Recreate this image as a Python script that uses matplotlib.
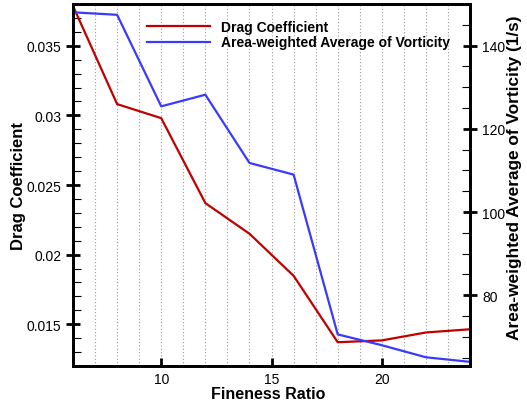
import matplotlib.pyplot as plt
import matplotlib.ticker as mticker

plt.rcParams['font.family'] = ['Liberation Sans', 'DejaVu Sans']

# Data
fineness_ratio = [6, 8, 10, 12, 14, 16, 18, 20, 22, 24]
drag_coefficient = [0.03786, 0.03081, 0.0298, 0.0237, 0.0215, 0.01848,
                    0.01371, 0.01384, 0.01441, 0.01464]
vorticity = [148.0, 147.4, 125.4, 128.2, 111.8, 109.0, 70.6, 68.0, 65.1, 64.0]

fig = plt.figure(figsize=(5.27, 4.02), dpi=100)
ax = fig.add_axes([0.1385, 0.087, 0.7535, 0.9006])
ax2 = ax.twinx()

l1, = ax.plot(fineness_ratio, drag_coefficient, color='#c00000', lw=1.6,
              label='Drag Coefficient')
l2, = ax2.plot(fineness_ratio, vorticity, color='#3a3aff', lw=1.6,
               label='Area-weighted Average of Vorticity')

ax.set_xlim(6, 24)
ax.set_ylim(0.012, 0.038)
ax2.set_ylim(63, 150)

# vertical dotted grid at every integer
for xg in range(7, 24):
    ax.axvline(xg, color='#999999', lw=0.8, ls=(0, (1, 2)), zorder=0)

ax.xaxis.set_major_locator(mticker.MultipleLocator(5))
ax.yaxis.set_major_locator(mticker.MultipleLocator(0.005))
ax.yaxis.set_minor_locator(mticker.MultipleLocator(0.001))
ax.yaxis.set_major_formatter(mticker.FormatStrFormatter('%g'))
ax2.yaxis.set_major_locator(mticker.MultipleLocator(20))
ax2.yaxis.set_minor_locator(mticker.MultipleLocator(5))

ax.tick_params(axis='x', direction='in', length=6, width=2, labelsize=10, pad=4)
ax.tick_params(axis='y', which='major', direction='inout', length=10, width=2,
               labelsize=10)
ax.tick_params(axis='y', which='minor', direction='in', length=6, width=0.8)
ax2.tick_params(axis='y', which='major', direction='inout', length=10, width=2,
                labelsize=10)
ax2.tick_params(axis='y', which='minor', direction='in', length=6, width=0.8)

for sp in ax.spines.values():
    sp.set_linewidth(2)
for sp in ax2.spines.values():
    sp.set_linewidth(2)

ax.set_xlabel('Fineness Ratio', fontsize=11.5, fontweight='bold', labelpad=0)
ax.xaxis.label.set_x(0.491)
ax.set_ylabel('Drag Coefficient', fontsize=12, fontweight='bold', labelpad=0)
ax2.set_ylabel('Area-weighted Average of Vorticity (1/s)', fontsize=12.4,
               fontweight='bold', labelpad=1.5)
ax2.yaxis.label.set_y(0.522)

leg = ax.legend(handles=[l1, l2], loc='upper left', bbox_to_anchor=(0.155, 0.99),
                frameon=False, prop={'weight': 'bold', 'size': 10},
                handlelength=4.5, labelspacing=0.1)

fig.savefig('out.png', dpi=100)
